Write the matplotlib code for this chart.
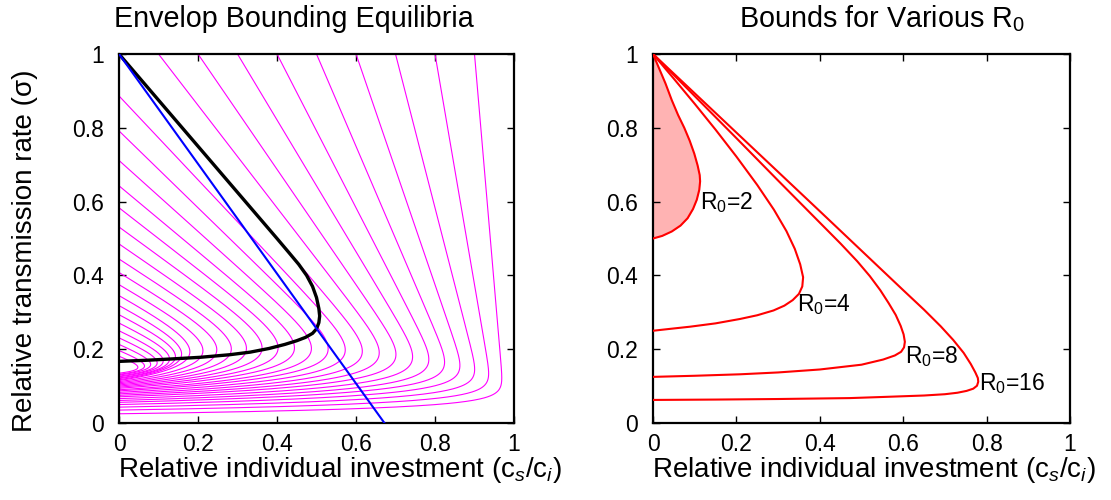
import numpy as np
import matplotlib
matplotlib.use("Agg")
import matplotlib.pyplot as plt

plt.rcParams["font.family"] = ["Liberation Sans", "DejaVu Sans"]
plt.rcParams["mathtext.fontset"] = "custom"
plt.rcParams["mathtext.rm"] = "Liberation Sans"
plt.rcParams["mathtext.it"] = "Liberation Sans:italic"

# ---------------------------------------------------------
# Left panel data
# ---------------------------------------------------------
# black envelope, R0 = 6
envelope_x = [0.0, 0.1, 0.2, 0.3, 0.35, 0.4, 0.43, 0.455, 0.475, 0.49, 0.5,
              0.506, 0.508, 0.506, 0.5, 0.49, 0.472, 0.45, 0.42, 0.38, 0.332,
              0.28, 0.205, 0.14, 0.07, 0.0]
envelope_s = [1.0, 0.875, 0.75, 0.625, 0.5625, 0.5, 0.462, 0.43, 0.4, 0.37, 0.34,
              0.31, 0.29, 0.272, 0.255, 0.243, 0.232, 0.223, 0.213, 0.202, 0.192,
              0.185, 0.178, 0.174, 0.17, 0.167]

# blue tangent line
blue_x = [0.0, 0.672]
blue_s = [1.0, 0.0]

# magenta family: straight upper parts all aim at one pivot point,
# each curve folds back to the left axis at its own floor value
mag_pivot_x = 1.0
mag_pivot_s = -0.25
mag_slope = [0.08, 0.16, 0.24, 0.32, 0.40, 0.48, 0.56, 0.64, 0.72, 0.80,
             0.88, 0.96, 1.04, 1.12, 1.20, 1.28, 1.36, 1.44, 1.52, 1.60,
             1.68, 1.76, 1.84, 1.92, 2.00, 2.08, 2.16, 2.24, 2.32]
mag_floor = [0.025, 0.035, 0.043, 0.050, 0.056, 0.061, 0.066, 0.071, 0.075, 0.079,
             0.083, 0.087, 0.090, 0.094, 0.097, 0.100, 0.103, 0.106, 0.109, 0.112,
             0.115, 0.117, 0.120, 0.122, 0.125, 0.127, 0.130, 0.132, 0.135]

# ---------------------------------------------------------
# Right panel data: bounds for various R0
# ---------------------------------------------------------
r0_values = [2, 4, 8, 16]

r0_2_x = [0.0, 0.015, 0.03, 0.045, 0.06, 0.075, 0.088, 0.099, 0.107, 0.112,
          0.113, 0.111, 0.105, 0.096, 0.083, 0.066, 0.045, 0.022, 0.0]
r0_2_s = [1.0, 0.96, 0.92, 0.875, 0.835, 0.8, 0.765, 0.73, 0.698, 0.672,
          0.655, 0.632, 0.605, 0.58, 0.555, 0.535, 0.519, 0.507, 0.5]

r0_4_x = [0.0, 0.05, 0.1, 0.15, 0.2, 0.25, 0.29, 0.32, 0.34, 0.353, 0.36,
          0.358, 0.35, 0.335, 0.315, 0.289, 0.25, 0.209, 0.15, 0.089, 0.04, 0.0]
r0_4_s = [1.0, 0.933, 0.865, 0.795, 0.722, 0.645, 0.578, 0.52, 0.472, 0.43, 0.395,
          0.37, 0.35, 0.333, 0.318, 0.305, 0.292, 0.282, 0.27, 0.261, 0.255, 0.25]

r0_8_x = [0.0, 0.1, 0.2, 0.3, 0.4, 0.45, 0.49, 0.52, 0.545, 0.565, 0.582, 0.594,
          0.601, 0.604, 0.602, 0.595, 0.58, 0.552, 0.5, 0.4, 0.3, 0.209, 0.1, 0.0]
r0_8_s = [1.0, 0.886, 0.772, 0.657, 0.543, 0.486, 0.438, 0.398, 0.36, 0.325, 0.293,
          0.263, 0.24, 0.22, 0.205, 0.193, 0.183, 0.172, 0.158, 0.145, 0.137, 0.132,
          0.128, 0.125]

r0_16_x = [0.0, 0.2, 0.4, 0.5, 0.6, 0.65, 0.69, 0.72, 0.745, 0.762, 0.773, 0.779,
           0.78, 0.777, 0.768, 0.752, 0.73, 0.7, 0.65, 0.55, 0.472, 0.3, 0.15, 0.0]
r0_16_s = [1.0, 0.787, 0.574, 0.467, 0.36, 0.307, 0.262, 0.225, 0.19, 0.16, 0.137,
           0.122, 0.112, 0.101, 0.093, 0.087, 0.082, 0.078, 0.0745, 0.0705, 0.0675,
           0.065, 0.0635, 0.0625]

label_x = [0.113, 0.345, 0.604, 0.782]
label_s = [0.597, 0.32, 0.18, 0.108]

tick_vals = [0, 0.2, 0.4, 0.6, 0.8, 1]
tick_labels = ["0", "0.2", "0.4", "0.6", "0.8", "1"]


def magenta_curve(slope, floor):
    top = min(1.0, mag_pivot_s + mag_pivot_x / slope)
    s = floor + (top - floor) * np.linspace(0, 1, 600) ** 2
    line = mag_pivot_x - slope * (s - mag_pivot_s)
    k = slope / mag_slope[0]
    width = min(0.012 + 0.0025 * k, 0.3 * (top - floor))
    x = line * (1 - np.exp(-(s - floor) / width))
    return x, s


def style_axes(ax):
    ax.set_xlim(0, 1)
    ax.set_ylim(0, 1)
    ax.set_xticks(tick_vals)
    ax.set_xticklabels(tick_labels)
    ax.set_yticks(tick_vals)
    ax.set_yticklabels(tick_labels)
    ax.tick_params(axis="both", direction="in", top=True, right=True,
                   length=5, width=1.0, labelsize=16.5)
    ax.tick_params(axis="x", pad=7)
    ax.tick_params(axis="y", pad=11)
    for sp in ax.spines.values():
        sp.set_linewidth(1.6)


def main():
    fig = plt.figure(figsize=(11.11, 5.0), dpi=100)
    ax1 = fig.add_axes([119 / 1111, 77 / 500, 395 / 1111, 369 / 500])
    ax2 = fig.add_axes([653 / 1111, 77 / 500, 417 / 1111, 369 / 500])

    # left panel
    for slope, floor in zip(mag_slope, mag_floor):
        mx, ms = magenta_curve(slope, floor)
        ax1.plot(mx, ms, color="#ff00ff", lw=0.8, zorder=2)
    ax1.plot(envelope_x, envelope_s, color="black", lw=2.4, zorder=3)
    ax1.plot(blue_x, blue_s, color="#0000ff", lw=1.5, zorder=4)
    style_axes(ax1)

    # right panel
    ax2.fill_betweenx(r0_2_s, 0, r0_2_x, color="#ffb3b3", lw=0, zorder=1)
    curves = [(r0_2_x, r0_2_s), (r0_4_x, r0_4_s), (r0_8_x, r0_8_s), (r0_16_x, r0_16_s)]
    for (cx, cs), r0, lx, ls in zip(curves, r0_values, label_x, label_s):
        ax2.plot(cx, cs, color="#ff0000", lw=1.5, zorder=3)
        ax2.text(lx, ls, f"R$_0$={r0}", fontsize=16.5, ha="left", va="center")
    style_axes(ax2)

    # titles and axis labels
    fig.text(294 / 1111, 1 - 27 / 500, "Envelop Bounding Equilibria",
             fontsize=20.7, ha="center", va="baseline")
    fig.text(882 / 1111, 1 - 27 / 500, "Bounds for Various R$_0$",
             fontsize=20.7, ha="center", va="baseline")
    xlab = "Relative individual investment (c$_s$/c$_i$)"
    fig.text(340 / 1111, 1 - 470 / 500, xlab, fontsize=20, ha="center", va="center")
    fig.text(874 / 1111, 1 - 470 / 500, xlab, fontsize=20, ha="center", va="center")
    fig.text(25 / 1111, 1 - 251 / 500, "Relative transmission rate (σ)",
             fontsize=20, ha="center", va="center", rotation=90)

    fig.savefig("out.png", dpi=100)
    plt.close(fig)


if __name__ == "__main__":
    main()
